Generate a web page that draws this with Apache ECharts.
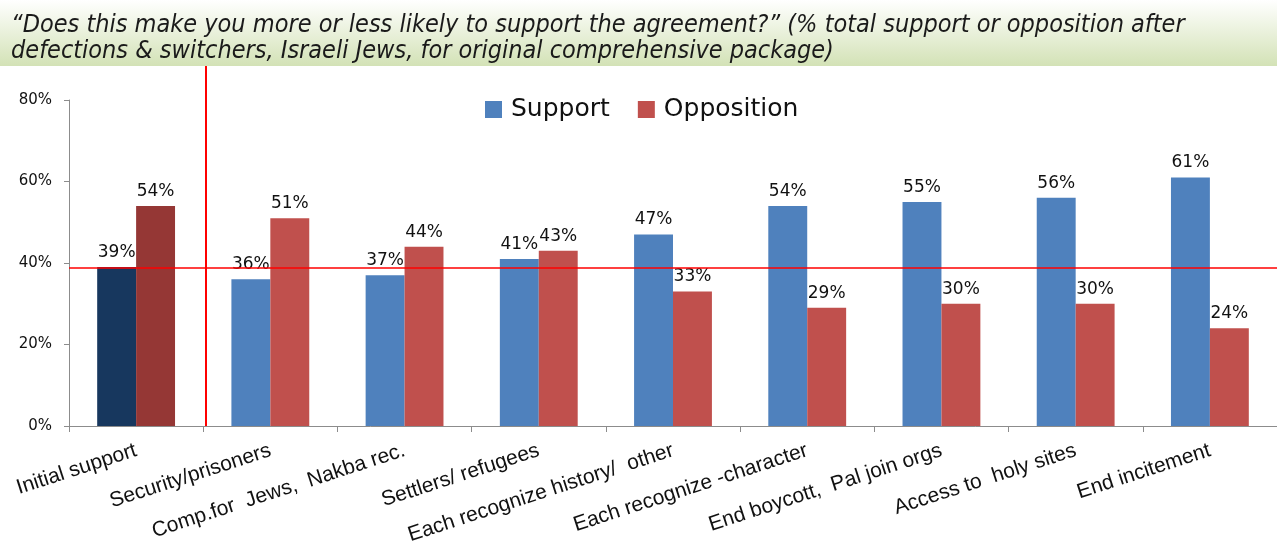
<!DOCTYPE html>
<html>
<head>
<meta charset="utf-8">
<script src="https://cdn.jsdelivr.net/npm/echarts@6/dist/echarts.min.js"></script>
<style>
html, body { margin: 0; padding: 0; background: #fff; }
#main { width: 1277px; height: 552px; }
</style>
</head>
<body>
<div id="main"></div>
<script>
var categories = ['Initial support', 'Security/prisoners', 'Comp.for  Jews,  Nakba rec.', 'Settlers/ refugees',
    'Each recognize history/  other', 'Each recognize -character', 'End boycott,  Pal join orgs',
    'Access to  holy sites', 'End incitement'];
var supportValues = [39, 36, 37, 41, 47, 54, 55, 56, 61];
var oppositionValues = [54, 51, 44, 43, 33, 29, 30, 30, 24];
var initialLevel = 38.8; // red reference line
var yTicks = [0, 20, 40, 60, 80];

var supportData = supportValues.map(function (v, i) {
    return i === 0 ? {value: v, itemStyle: {color: '#17375e'}} : v;
});
var oppositionData = oppositionValues.map(function (v, i) {
    return i === 0 ? {value: v, itemStyle: {color: '#953735'}} : v;
});

var labelStyle = {
    show: true,
    position: 'top',
    distance: 6,
    formatter: '{c}%',
    color: '#111',
    fontFamily: 'DejaVu Sans',
    fontSize: 17
};

var option = {
    animation: false,
    graphic: [{
        type: 'rect',
        z: -10,
        shape: {x: 0, y: 0, width: 1277, height: 66},
        style: {
            fill: new echarts.graphic.LinearGradient(0, 0, 0, 1, [
                {offset: 0, color: '#ffffff'},
                {offset: 1, color: '#d3e2b6'}
            ])
        }
    }],
    title: {
        text: '\u201cDoes this make you more or less likely to support the agreement?\u201d (% total support or opposition after\ndefections & switchers, Israeli Jews, for original comprehensive package)',
        left: 6,
        top: 7,
        textStyle: {
            fontFamily: 'Liberation Sans Narrow, DejaVu Sans Condensed, sans-serif',
            fontStyle: 'italic',
            fontWeight: 'normal',
            fontSize: 25,
            lineHeight: 26,
            color: '#1a1a1a'
        }
    },
    legend: {
        data: ['Support', 'Opposition'],
        left: 480,
        top: 92,
        itemWidth: 17,
        itemHeight: 17,
        itemGap: 28,
        icon: 'rect',
        textStyle: {fontFamily: 'DejaVu Sans', fontSize: 25, color: '#111', padding: [0, 0, 0, 4]}
    },
    grid: {left: 69, right: 0, top: 100, bottom: 126},
    xAxis: {
        type: 'category',
        data: categories,
        axisLine: {lineStyle: {color: '#8c8c8c'}},
        axisTick: {show: true, length: 6, lineStyle: {color: '#8c8c8c'}},
        axisLabel: {
            interval: 0,
            rotate: 18,
            margin: 24,
            fontFamily: 'Liberation Sans, sans-serif',
            fontSize: 21,
            color: '#111'
        }
    },
    yAxis: {
        type: 'value',
        min: yTicks[0],
        max: yTicks[yTicks.length - 1],
        interval: 20,
        splitLine: {show: false},
        axisLine: {show: true, lineStyle: {color: '#8c8c8c'}},
        axisTick: {show: true, length: 5, lineStyle: {color: '#8c8c8c'}},
        axisLabel: {
            formatter: '{value}%',
            margin: 17,
            fontFamily: 'DejaVu Sans',
            fontSize: 15,
            color: '#111'
        }
    },
    series: [
        {
            name: 'Support',
            type: 'bar',
            data: supportData,
            barWidth: '29%',
            barGap: '0%',
            itemStyle: {color: '#4f81bd'},
            label: labelStyle,
            markLine: {
                silent: true,
                symbol: 'none',
                label: {show: false},
                lineStyle: {color: '#ff0000', width: 1.5, type: 'solid', opacity: 1},
                data: [{yAxis: initialLevel}]
            }
        },
        {
            name: 'Opposition',
            type: 'bar',
            data: oppositionData,
            barWidth: '29%',
            itemStyle: {color: '#c0504d'},
            label: labelStyle
        },
        {
            // vertical separator after the first category
            name: 'separator',
            type: 'custom',
            silent: true,
            z: 5,
            data: [[0, 0]],
            renderItem: function (params, api) {
                var base = api.coord([0, 0]);
                var band = api.size([1, 0])[0];
                var x = Math.round(base[0] + band / 2) + 3;
                return {
                    type: 'line',
                    shape: {x1: x, y1: 66, x2: x, y2: base[1]},
                    style: {stroke: '#ff0000', lineWidth: 2}
                };
            }
        }
    ]
};

var myChart = echarts.init(document.getElementById('main'));
myChart.setOption(option);
</script>
</body>
</html>
